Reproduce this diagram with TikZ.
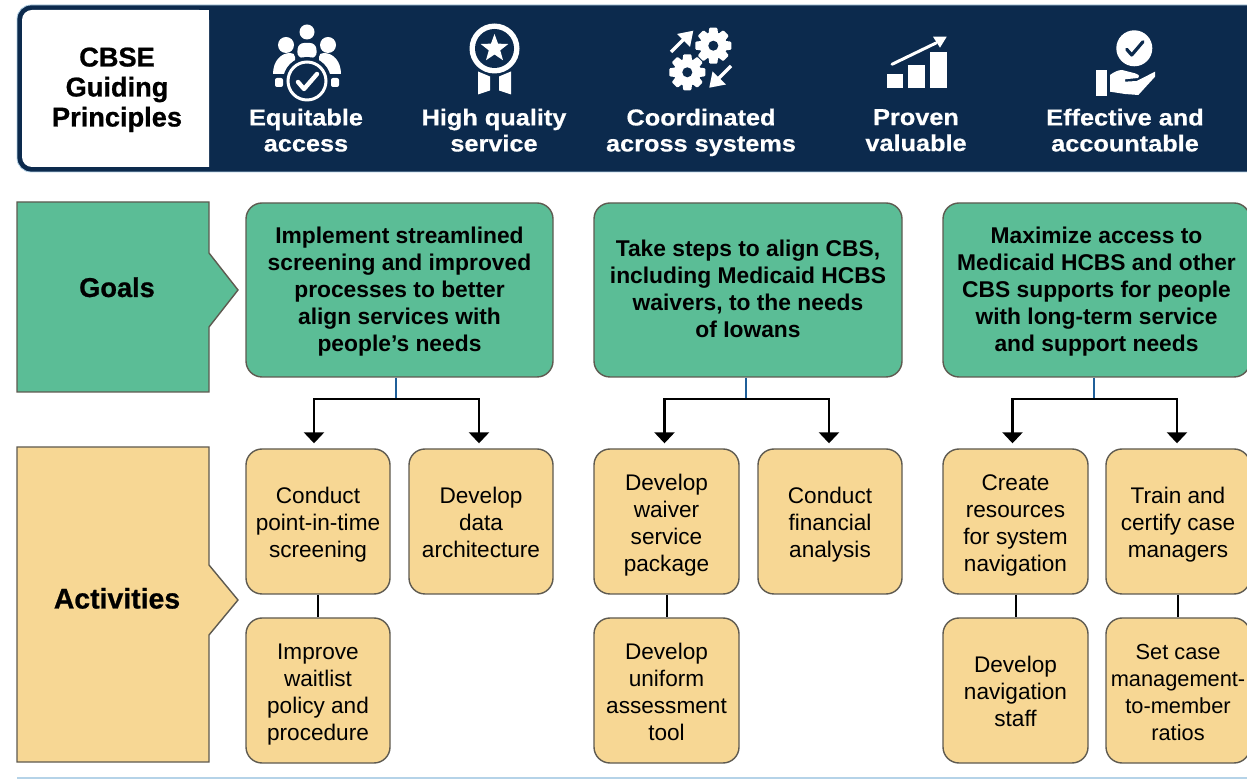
\documentclass[tikz,border=0pt]{standalone}
\usepackage{fontspec}
\setmainfont{Liberation Sans}
\newfontfamily\headf[UprightFont=* Bold,FakeStretch=1.1,FakeBold=0.6]{Liberation Sans}
\newfontfamily\sidef[UprightFont=* Bold,FakeBold=0.8]{Liberation Sans}
\usetikzlibrary{arrows.meta}
\definecolor{navy}{HTML}{0C2A4D}
\definecolor{goalc}{HTML}{5BBD96}
\definecolor{actc}{HTML}{F7D794}
\definecolor{edgec}{HTML}{5E5A50}
\definecolor{stubc}{HTML}{1F5F99}
\definecolor{palec}{HTML}{B5D3E8}
\tikzset{
 struts/.style={execute at begin node=\strut,execute at end node=\strut},
 goalbox/.style={draw=edgec,fill=goalc,line width=0.7pt,rounded corners=8pt,inner sep=0pt,align=center,font=\fontsize{11.4}{13.5}\selectfont\bfseries\def\boxH{10.9pt}},
 actbox/.style={draw=edgec,fill=actc,line width=0.7pt,rounded corners=8pt,inner sep=0pt,align=center,font=\fontsize{11.3}{13.5}\selectfont\def\boxH{12.6pt}},
 headtxt/.style={struts,text=white,align=center,inner sep=0pt,font=\headf\fontsize{11.5}{13}\selectfont},
 sidetxt/.style={struts,align=center,inner sep=0pt,font=\sidef\fontsize{13.6}{15}\selectfont},
 stubline/.style={draw=stubc,line width=1pt},
 branch/.style={draw=black,line width=1.3pt,-{Triangle[width=10pt,length=5.5pt]},shorten >=2.5pt},
 linkline/.style={draw=black,line width=1pt},
 checkmark/.style={line width=1.5pt,line cap=round,line join=round}
}
\newcommand{\abox}[7]{\node[#6,minimum width={(#4-#2)*0.5pt},minimum height={(#5-#3)*0.5pt}] (#1) at ({(#2+#4)/2},{(#3+#5)/2}) {\rule{0pt}{\boxH}#7\rule[-3.5pt]{0pt}{3.5pt}}}
\newcommand{\gearicon}[2]{%
 \begin{scope}[shift={(#1,#2)}]
  \fill[white] (0,0) circle (13.5);
  \foreach \a in {0,45,...,315}{\fill[white,rotate=\a,rounded corners=0.5pt] (-4,-18) -- (4,-18) -- (5,-10) -- (-5,-10) -- cycle;}
  \fill[navy] (0,0) circle (5);
 \end{scope}}
\begin{document}
\begin{tikzpicture}[x=0.5pt,y=-0.5pt]
\useasboundingbox (0,0) rectangle (1247,779);
\clip (0,0) rectangle (1247,779);
\fill[white] (0,0) rectangle (1247,779);
% header band
\draw[fill=navy,draw=palec,line width=0.4pt,rounded corners=7pt] (17,5) rectangle (1262,172);
\fill[white,rounded corners=5pt] (22,10) -- (209,10) [sharp corners] -- (209,167) [rounded corners=5pt] -- (22,167) -- cycle;
\fill[white] (120,10) rectangle (209,167);
\node[sidetxt] (title) at (117,91.5) {CBSE\\Guiding\\Principles};
% people icon
\begin{scope}[shift={(307,65)}]
 \fill[white] (0,-33) circle (7.5);
 \fill[white] (-21,-20) circle (8);
 \fill[white] (21,-20) circle (8);
 \fill[white,rounded corners=3pt] (-10,-7) -- (-9,-22) -- (9,-22) -- (10,-7) -- cycle;
 \fill[white] (-34,9) .. controls (-34,-4) and (-26,-12) .. (-17,-12) .. controls (-14,-12) and (-12,-11) .. (-12,-8) -- (-12,9) -- cycle;
 \fill[white] (34,9) .. controls (34,-4) and (26,-12) .. (17,-12) .. controls (14,-12) and (12,-11) .. (12,-8) -- (12,9) -- cycle;
 \fill[navy] (0,16) circle (24);
 \draw[white,line width=1.5pt] (0,16) circle (19);
 \draw[white,checkmark,line width=2.2pt] (-9,17) -- (-3,24) -- (10,9);
 \fill[white,rounded corners=1pt] (-32,13) rectangle (-24,22);
 \fill[white,rounded corners=1pt] (24,13) rectangle (32,22);
\end{scope}
% ribbon icon
\begin{scope}[shift={(494.5,48.5)}]
 \fill[white] (-16.5,23) -- (-4.5,28) -- (-4.5,42) -- (-16.5,46) -- cycle;
 \fill[white] (16.5,23) -- (4.5,28) -- (4.5,42) -- (16.5,46) -- cycle;
 \fill[white] (0,0) circle (25);
 \fill[navy] (0,0) circle (19.5);
 \fill[white] (90:-14.5) -- (126:-6) -- (162:-14.5) -- (198:-6) -- (234:-14.5) -- (270:-6) -- (306:-14.5) -- (342:-6) -- (18:-14.5) -- (54:-6) -- cycle;
\end{scope}
% gears icon
\gearicon{713.3}{45.7}
\gearicon{687.3}{72.3}
\draw[white,line width=1.7pt] (671,52) -- (686,37);
\fill[white] (693.3,30.7) -- (690,47) -- (677,34) -- cycle;
\draw[white,line width=1.7pt] (731,66) -- (716,81);
\fill[white] (709.3,87.7) -- (712.5,71.5) -- (726,84.5) -- cycle;
% chart icon
\fill[white] (886.7,74) rectangle (902.7,88);
\fill[white] (908,65) rectangle (925,88);
\fill[white] (930,52) rectangle (946.7,88);
\draw[white,line width=1.5pt,line cap=round] (892,64.3) -- (936,43);
\fill[white] (946.7,36.7) -- (933,36.7) -- (940,47.7) -- cycle;
% hand icon
\fill[white] (1134.3,48.3) circle (18);
\draw[navy,checkmark,line width=1.6pt] (1126.7,49.3) -- (1131.7,55) -- (1143,41.7);
\fill[white] (1096,70) rectangle (1107,96);
\fill[white] (1110,75) .. controls (1114,72) and (1118,70) .. (1122,70) -- (1135,73.3) .. controls (1140,75) and (1140,77) .. (1138,78) -- (1125,79.3) -- (1125,81.7) -- (1136.7,81) -- (1155,71.7) -- (1155,76.7) -- (1138.3,95) -- (1125,94) -- (1110,91.7) -- cycle;
\node[headtxt] (h1) at (306,134) {Equitable\\access};
\node[headtxt] (h2) at (494,134) {High quality\\service};
\node[headtxt] (h3) at (701,134) {Coordinated\\across systems};
\node[headtxt] (h4) at (916,134) {Proven\\valuable};
\node[headtxt] (h5) at (1125,134) {Effective and\\accountable};
% side arrows
\draw[fill=goalc,draw=edgec,line width=0.7pt] (17,202) -- (209,202) -- (209,253) -- (238,290) -- (209,327) -- (209,392) -- (17,392) -- cycle;
\node[sidetxt] (goals) at (117,291) {Goals};
\draw[fill=actc,draw=edgec,line width=0.7pt] (17,447) -- (209,447) -- (209,565) -- (238,600) -- (209,635) -- (209,762) -- (17,762) -- cycle;
\node[sidetxt,font=\sidef\fontsize{14.2}{15}\selectfont] (activities) at (117,602.5) {Activities};
% goal boxes
\abox{g1}{246}{203}{553}{377}{goalbox}{Implement streamlined\\screening and improved\\processes to better\\align services with\\people’s needs};
\abox{g2}{594}{203}{902}{377}{goalbox}{Take steps to align CBS,\\including Medicaid HCBS\\waivers, to the needs\\of Iowans};
\abox{g3}{943}{203}{1250}{377}{goalbox}{Maximize access to\\Medicaid HCBS and other\\CBS supports for people\\with long-term service\\and support needs};
% activity boxes
\abox{a1}{246}{449}{390}{594}{actbox}{Conduct\\point-in-time\\screening};
\abox{a2}{409}{449}{553}{594}{actbox}{Develop\\data\\architecture};
\abox{a3}{246}{618}{390}{763}{actbox}{Improve\\waitlist\\policy and\\procedure};
\abox{b1}{594}{449}{739}{594}{actbox}{Develop\\waiver\\service\\package};
\abox{b2}{758}{449}{902}{594}{actbox}{Conduct\\financial\\analysis};
\abox{b3}{594}{618}{739}{763}{actbox}{Develop\\uniform\\assessment\\tool};
\abox{c1}{943}{449}{1088}{594}{actbox}{Create\\resources\\for system\\navigation};
\abox{c2}{1106}{449}{1250}{594}{actbox}{Train and\\certify case\\managers};
\abox{c3}{943}{618}{1088}{763}{actbox}{Develop\\navigation\\staff};
\abox{c4}{1106}{618}{1250}{763}{actbox,font=\fontsize{10.9}{13.5}\selectfont\def\boxH{12.6pt}}{Set case\\management-\\to-member\\ratios};
% connectors
\coordinate (j1) at (396,399);
\coordinate (j2) at (746,399);
\coordinate (j3) at (1094,399);
\draw[stubline] (j1 |- g1.south) -- (j1);
\draw[stubline] (j2 |- g2.south) -- (j2);
\draw[stubline] (j3 |- g3.south) -- (j3);
\draw[branch] (j1) -| ([xshift=-2pt]a1.north);
\draw[branch] (j1) -| ([xshift=-1pt]a2.north);
\draw[branch] (j2) -| ([xshift=-1pt]b1.north);
\draw[branch] (j2) -| ([xshift=-0.5pt]b2.north);
\draw[branch] (j3) -| ([xshift=-1.5pt]c1.north);
\draw[branch] (j3) -| ([xshift=-0.5pt]c2.north);
\draw[linkline] (a1) -- (a3);
\draw[linkline] (b1) -- (b3);
\draw[linkline] (c1) -- (c3);
\draw[linkline] (c2) -- (c4);
\draw[draw=palec,line width=0.8pt] (17,778) -- (1247,778);
\end{tikzpicture}
\end{document}
